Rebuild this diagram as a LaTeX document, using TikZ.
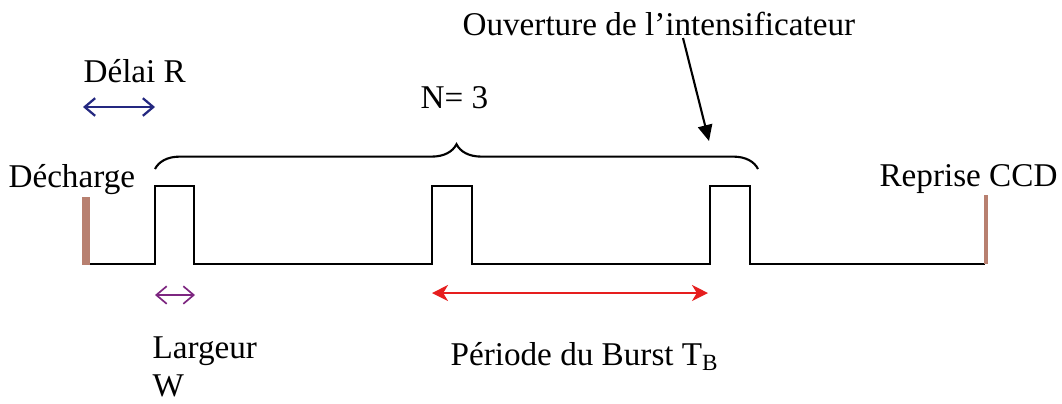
\documentclass[tikz,border=0pt]{standalone}
\usepackage{fontspec}
\setmainfont{Liberation Serif}
\usetikzlibrary{arrows.meta, positioning, decorations.pathreplacing}
\definecolor{barbrown}{RGB}{184,128,112}
\definecolor{delaiblue}{RGB}{36,40,128}
\definecolor{largpurple}{RGB}{125,38,128}
\definecolor{burstred}{RGB}{230,30,30}

\begin{document}
\begin{tikzpicture}[x=0.0125cm, y=-0.0125cm,
  txt/.style={font=\fontsize{11.8}{14}\selectfont, inner sep=0pt, anchor=base west},
  signal/.style={line width=1.05pt, line join=miter},
  bar/.style={draw=barbrown},
  span/.style={{Straight Barb[length=1.3mm, width=2.2mm]}-{Straight Barb[length=1.3mm, width=2.2mm]}, line width=0.8pt}
]
\useasboundingbox (0,0) rectangle (1062,403);

% Texts
\node[txt] (delai) at (83,82) {Délai R};
\node[txt] (decharge) at (8,187) {Décharge};
\node[txt] (nburst) at (420,108) {N= 3};
\node[txt] (ouverture) at (462,35) {Ouverture de l'intensificateur};
\node[txt, anchor=base east] (reprise) at (1058,186) {Reprise CCD};
\node[txt] (largeur) at (152,358) {Largeur};
\node[txt] (width) at (152,396) {W};
\node[txt] (periode) at (450,365) {Période du Burst T\textsubscript{B}};

% Signal: three pulses
\draw[signal] (88,264) -- (155,264) -- (155,186) -- (194,186) -- (194,264)
  -- (432,264) -- (432,186) -- (472,186) -- (472,264)
  -- (710,264) -- (710,186) -- (750,186) -- (750,264) -- (985,264);

% Discharge and CCD bars
\draw[bar, line width=2.6pt] (86,197) -- (86,265);
\draw[bar, line width=1.4pt] (986,195) -- (986,264);

% Brace over the burst
\draw[line width=0.75pt, decorate, decoration={brace, amplitude=0.31cm}] (155,169) -- (758,169);

% Durations
\coordinate (delaiL) at (83,107);
\coordinate (delaiR) at (155,107);
\draw[span, draw=delaiblue] (delaiL) -- (delaiR);

\coordinate (largL) at (155,295);
\coordinate (largR) at (195,295);
\draw[span, draw=largpurple, line width=0.6pt] (largL) -- (largR);

\coordinate (periodeL) at (432,293);
\coordinate (periodeR) at (708,293);
\draw[{Stealth[length=2mm, width=2mm, inset=0.6mm]}-{Stealth[length=2mm, width=2mm, inset=0.6mm]}, line width=0.7pt, draw=burstred, fill=burstred] (periodeL) -- (periodeR);

% Intensifier gate arrow
\coordinate (ouvstart) at (683,38);
\coordinate (ouvtip) at (709,141);
\draw[-{Triangle[length=2mm, width=1.8mm]}, line width=0.75pt] (ouvstart) -- (ouvtip);

\end{tikzpicture}
\end{document}
